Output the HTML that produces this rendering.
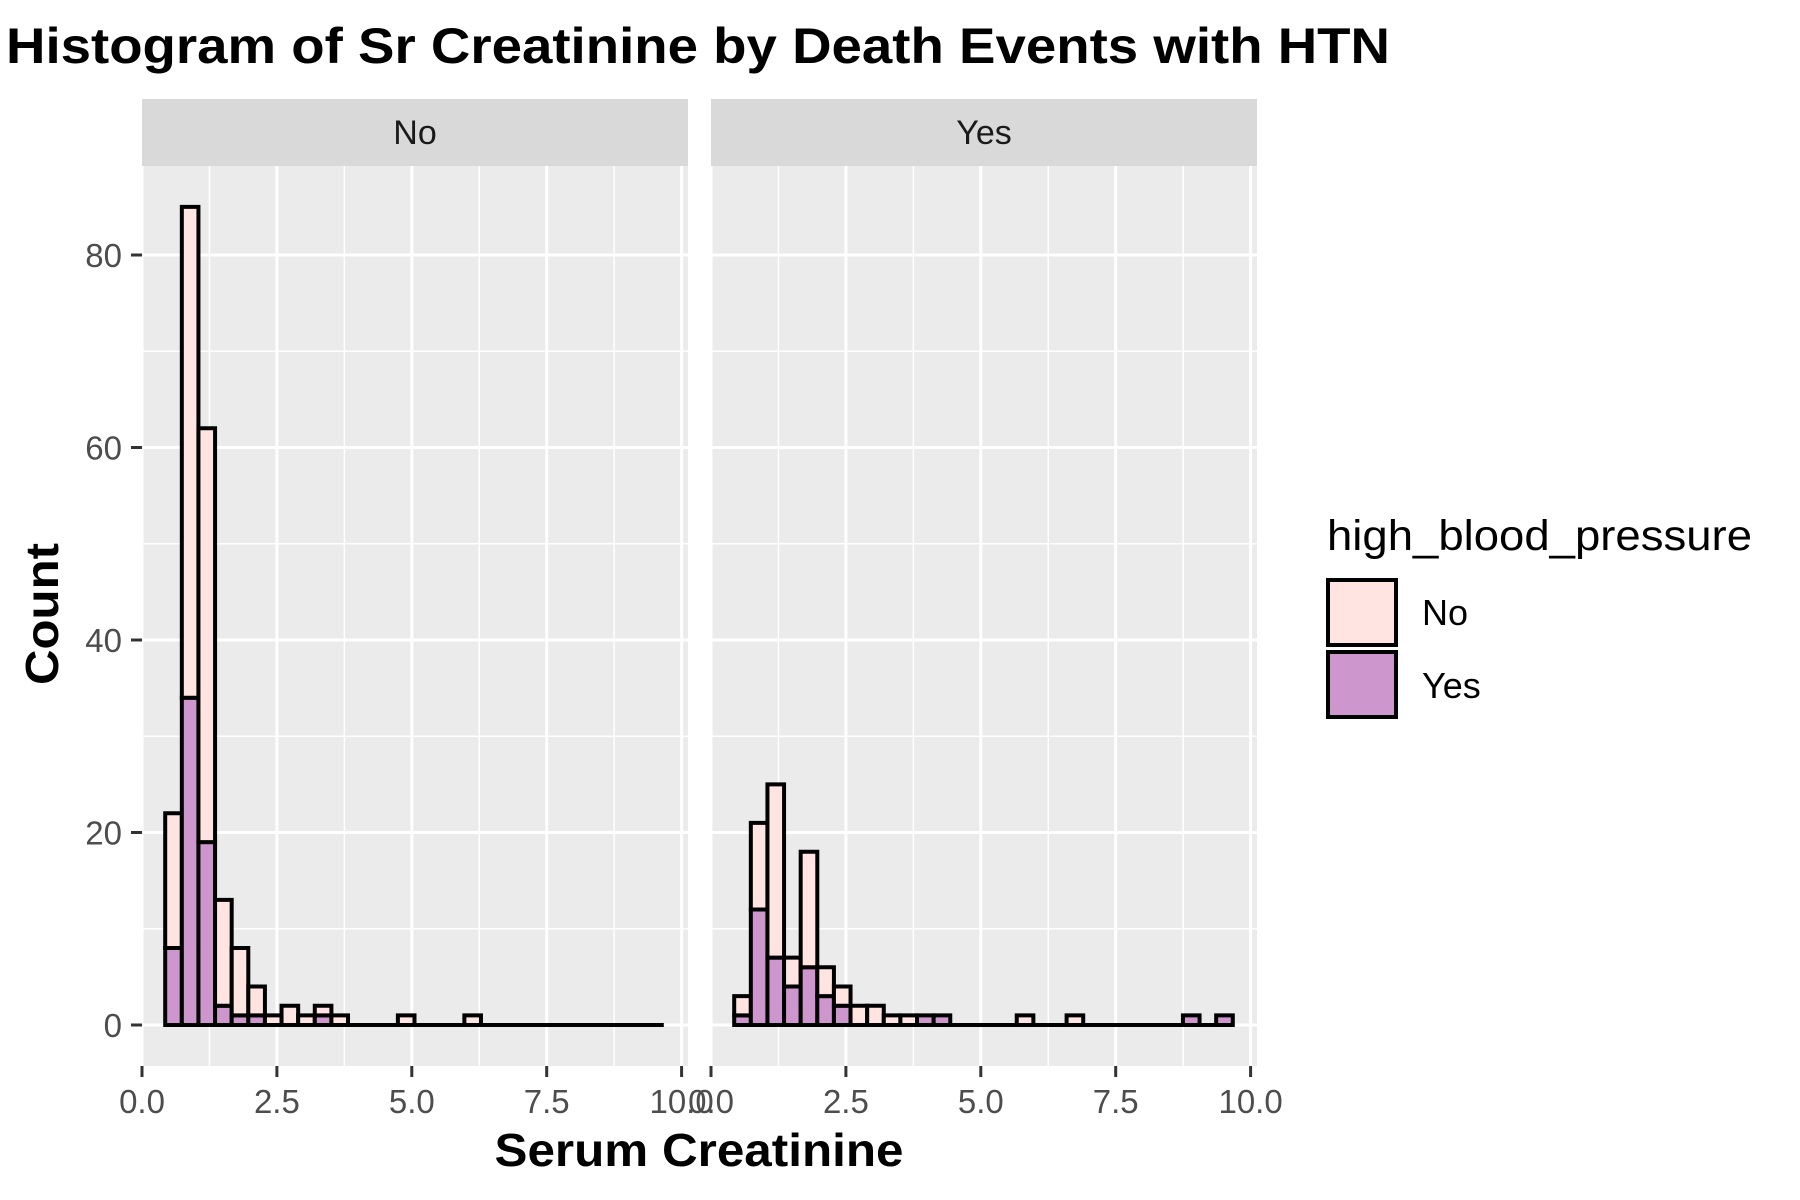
<!DOCTYPE html>
<html><head><meta charset="utf-8"><style>
html,body{margin:0;padding:0;background:#fff;}
svg{display:block;font-family:"Liberation Sans",Arial,sans-serif;}
</style></head><body>
<svg id="chart" width="1800" height="1200" viewBox="0 0 1800 1200" xmlns="http://www.w3.org/2000/svg">
<text x="6" y="63" font-size="50" font-weight="bold" fill="#000" textLength="1384" lengthAdjust="spacingAndGlyphs">Histogram of Sr Creatinine by Death Events with HTN</text>
<text transform="translate(58,614) rotate(-90)" text-anchor="middle" font-size="46" font-weight="bold" fill="#000" textLength="142" lengthAdjust="spacingAndGlyphs">Count</text>
<text x="699" y="1166" text-anchor="middle" font-size="46" font-weight="bold" fill="#000" textLength="409" lengthAdjust="spacingAndGlyphs">Serum Creatinine</text>
<g id="panels"></g>
<g>
<text x="1327" y="550" font-size="43" fill="#000" textLength="425" lengthAdjust="spacingAndGlyphs">high_blood_pressure</text>
<rect x="1328" y="580" width="68" height="65" fill="#FFE4E1" stroke="#000" stroke-width="4"/>
<rect x="1328" y="652" width="68" height="65" fill="#CD96CD" stroke="#000" stroke-width="4"/>
<text x="1422" y="625" font-size="36" fill="#000">No</text>
<text x="1422" y="698" font-size="36" fill="#000">Yes</text>
</g>
</svg>
<script>
// Data arrays
const facets = ["No", "Yes"];
const binStart = 0.43;
const binWidth = 0.308;
const numBins = 30;
// counts per bin (stack: Yes at bottom, No on top)
const noFacetYes = [8,34,19,2,1,1,0,0,0,1,0,0,0,0,0,0,0,0,0,0,0,0,0,0,0,0,0,0,0,0];
const noFacetNo  = [14,51,43,11,7,3,1,2,1,1,1,0,0,0,1,0,0,0,1,0,0,0,0,0,0,0,0,0,0,0];
const yesFacetYes = [1,12,7,4,6,3,2,0,0,0,0,1,1,0,0,0,0,0,0,0,0,0,0,0,0,0,0,1,0,1];
const yesFacetNo  = [2,9,18,3,12,3,2,2,2,1,1,0,0,0,0,0,0,1,0,0,1,0,0,0,0,0,0,0,0,0];
const xTicks = [0, 2.5, 5, 7.5, 10];
const xTickLabels = ["0.0", "2.5", "5.0", "7.5", "10.0"];
const xMinor = [1.25, 3.75, 6.25, 8.75];
const yTicks = [0, 20, 40, 60, 80];
const yTickLabels = ["0", "20", "40", "60", "80"];
const yMinor = [10, 30, 50, 70];

const NS = "http://www.w3.org/2000/svg";
const panelLefts = [142, 711];
const panelW = 546;
const panelTop = 166, panelBot = 1066;
const pxPerX = 53.96;
const y0 = 1025, pxPerY = 9.625;
function xScale(p, v){ return panelLefts[p] + v * pxPerX; }
function yScale(v){ return y0 - v * pxPerY; }
function mk(tag, attrs, parent){
  const e = document.createElementNS(NS, tag);
  for (const k in attrs) e.setAttribute(k, attrs[k]);
  parent.appendChild(e);
  return e;
}
const root = document.getElementById("panels");
const yesData = [noFacetYes, yesFacetYes];
const noData = [noFacetNo, yesFacetNo];

for (let p = 0; p < facets.length; p++) {
  const g = mk("g", {}, root);
  
  
  const L = panelLefts[p];
  const strip = mk("rect", {x:L, y:99, width:panelW, height:67, fill:"#D9D9D9"}, g);
  
  
  const st = mk("text", {x:L+panelW/2, y:144, "text-anchor":"middle", "font-size":"34", fill:"#1A1A1A"}, g);
  
  
  st.textContent = facets[p];
  const bg = mk("rect", {x:L, y:panelTop, width:panelW, height:panelBot-panelTop, fill:"#EBEBEB"}, g);
  
  
  xMinor.forEach(v => {
    const l = mk("line", {x1:xScale(p,v), x2:xScale(p,v), y1:panelTop, y2:panelBot, stroke:"#fff", "stroke-width":"1.5"}, g);
    
    
  });
  yMinor.forEach(v => {
    const l = mk("line", {x1:L, x2:L+panelW, y1:yScale(v), y2:yScale(v), stroke:"#fff", "stroke-width":"1.5"}, g);
    
    
  });
  xTicks.forEach(v => {
    const l = mk("line", {x1:xScale(p,v), x2:xScale(p,v), y1:panelTop, y2:panelBot, stroke:"#fff", "stroke-width":"3"}, g);
    
    
  });
  yTicks.forEach(v => {
    const l = mk("line", {x1:L, x2:L+panelW, y1:yScale(v), y2:yScale(v), stroke:"#fff", "stroke-width":"3"}, g);
    
    
  });
  // baseline for zero-count bins
  const bl = mk("line", {x1:xScale(p, binStart), x2:xScale(p, binStart + numBins*binWidth), y1:yScale(0), y2:yScale(0), stroke:"#000", "stroke-width":"4"}, g);
  
  
  // bars
  for (let i = 0; i < numBins; i++) {
    const xl = xScale(p, binStart + i*binWidth);
    const xr = xScale(p, binStart + (i+1)*binWidth);
    const yv = yesData[p][i], nv = noData[p][i];
    const r1 = mk("rect", {x:xl, y:yScale(yv), width:xr-xl, height:yScale(0)-yScale(yv), fill:"#CD96CD", stroke:"#000", "stroke-width":"4"}, g);
    
    
    const r2 = mk("rect", {x:xl, y:yScale(yv+nv), width:xr-xl, height:yScale(yv)-yScale(yv+nv), fill:"#FFE4E1", stroke:"#000", "stroke-width":"4"}, g);
    
    
  }
  // x ticks
  xTicks.forEach((v, i) => {
    const t = mk("line", {x1:xScale(p,v), x2:xScale(p,v), y1:panelBot, y2:panelBot+11, stroke:"#333", "stroke-width":"3"}, g);
    
    
    const tl = mk("text", {x:xScale(p,v), y:1113, "text-anchor":"middle", "font-size":"33", fill:"#4D4D4D"}, g);
    
    
    tl.textContent = xTickLabels[i];
  });
}
// y axis on first panel
const ya = mk("g", {}, root);


yTicks.forEach((v, i) => {
  const t = mk("line", {x1:131, x2:142, y1:yScale(v), y2:yScale(v), stroke:"#333", "stroke-width":"3"}, ya);
  
  
  const tl = mk("text", {x:122, y:yScale(v)+12, "text-anchor":"end", "font-size":"33", fill:"#4D4D4D"}, ya);
  
  
  tl.textContent = yTickLabels[i];
});
</script>
</body></html>
